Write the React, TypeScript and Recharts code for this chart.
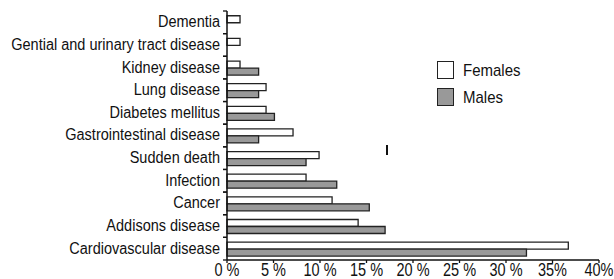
import React from "react";
import { BarChart, Bar, XAxis, YAxis, Legend } from "recharts";

const categories = [
  "Dementia",
  "Gential and urinary tract disease",
  "Kidney disease",
  "Lung disease",
  "Diabetes mellitus",
  "Gastrointestinal disease",
  "Sudden death",
  "Infection",
  "Cancer",
  "Addisons disease",
  "Cardiovascular disease",
];
const females = [1.4, 1.4, 1.4, 4.2, 4.2, 7.1, 9.9, 8.5, 11.3, 14.1, 36.7];
const males = [0, 0, 3.4, 3.4, 5.1, 3.4, 8.5, 11.8, 15.3, 17.0, 32.2];
const xTicks = [0, 5, 10, 15, 20, 25, 30, 35, 40];
const xTickLabels = ["0 %", "5 %", "10 %", "15 %", "20 %", "25 %", "30 %", "35%", "40%"];

const data = categories.map((name, i) => ({ name, Females: females[i], Males: males[i] }));

const FONT = "'Liberation Sans', Arial, Helvetica, sans-serif";
const STRETCH = 1.13;
const X_STRETCH = 1.24;
const Y_TICK_SIZE = 4;
const Y_TICK_MARGIN = 3;

const YTick = (props: any) => {
  const { x, y, payload } = props;
  const axisX = x + Y_TICK_SIZE + Y_TICK_MARGIN;
  const off = payload && payload.offset ? payload.offset : 11.3;
  return (
    <g>
      <line x1={axisX - Y_TICK_SIZE} x2={axisX} y1={y - off} y2={y - off} stroke="#111" strokeWidth={1.3} />
      <line x1={axisX - Y_TICK_SIZE} x2={axisX} y1={y + off} y2={y + off} stroke="#111" strokeWidth={1.3} />
      <g transform={`translate(${x},${y}) scale(1,${STRETCH})`}>
        <text x={0} y={0} dy="0.3em" textAnchor="end" fontFamily={FONT} fontSize={14.5} fill="#111">
          {payload.value}
        </text>
      </g>
    </g>
  );
};

const XTick = (props: any) => {
  const { x, y, payload } = props;
  const idx = xTicks.indexOf(payload.value);
  const label = idx >= 0 ? xTickLabels[idx] : String(payload.value);
  return (
    <g transform={`translate(${x},${y}) scale(1,${X_STRETCH})`}>
      <text x={0} y={0} dy="0.72em" textAnchor="middle" fontFamily={FONT} fontSize={14.5} fill="#111">
        {label}
      </text>
    </g>
  );
};

const LegendContent = (props: any) => {
  const { payload } = props;
  return (
    <div style={{ fontFamily: FONT }}>
      {(payload || []).map((p: any) => (
        <div key={p.value} style={{ display: "flex", alignItems: "center", height: 17, marginBottom: 10 }}>
          <div
            style={{
              width: 17,
              height: 18,
              boxSizing: "border-box",
              border: "1.5px solid #222",
              background: p.value === "Females" ? "#ffffff" : "#999999",
              marginRight: 9,
            }}
          />
          <span style={{ fontSize: 15, color: "#111", display: "inline-block", transform: `scaleY(${STRETCH})`, lineHeight: "17px" }}>
            {p.value}
          </span>
        </div>
      ))}
    </div>
  );
};

export default function App() {
  return (
    <div style={{ position: "absolute", left: 0, top: 0, width: 614, height: 279, background: "#fff" }}>
      <BarChart
        width={614}
        height={279}
        data={data}
        layout="vertical"
        margin={{ top: 11, right: 15, bottom: 0, left: 0 }}
        barCategoryGap="21%"
        barGap={0}
      >
        <XAxis
          type="number"
          domain={[0, 40]}
          ticks={xTicks}
          interval={0}
          tickSize={3}
          tickMargin={0}
          height={19}
          axisLine={{ stroke: "#111", strokeWidth: 1.5 }}
          tickLine={{ stroke: "#111", strokeWidth: 1.3 }}
          tick={<XTick />}
        />
        <YAxis
          type="category"
          dataKey="name"
          width={227}
          interval={0}
          tickSize={Y_TICK_SIZE}
          tickMargin={Y_TICK_MARGIN}
          tickLine={false}
          axisLine={{ stroke: "#111", strokeWidth: 1.5 }}
          tick={<YTick />}
        />
        <Legend
          layout="vertical"
          align="center"
          verticalAlign="middle"
          content={<LegendContent />}
          wrapperStyle={{ left: 437, top: 61, width: 170, right: "auto", bottom: "auto" }}
        />
        <Bar dataKey="Females" fill="#ffffff" stroke="#222" strokeWidth={1.3} isAnimationActive={false} />
        <Bar dataKey="Males" fill="#999999" stroke="#222" strokeWidth={1.3} isAnimationActive={false} />
      </BarChart>
      <div style={{ position: "absolute", left: 386, top: 145, width: 2, height: 10, background: "#111" }} />
    </div>
  );
}
